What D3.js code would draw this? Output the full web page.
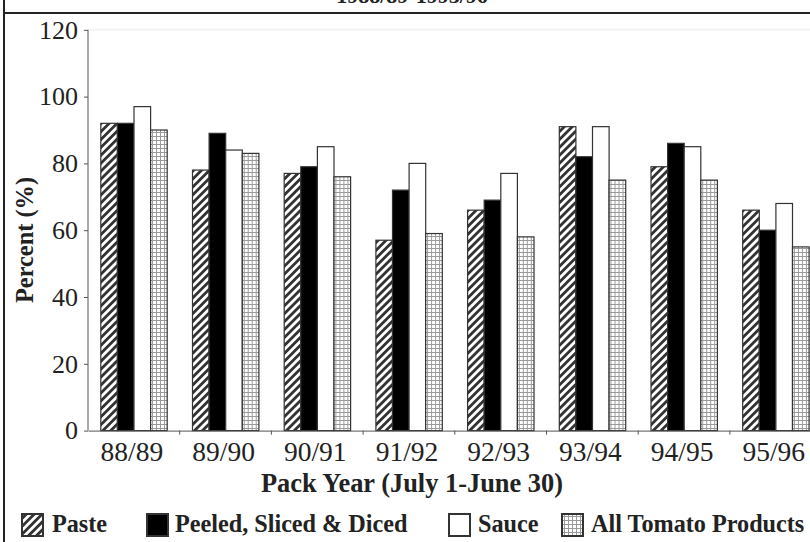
<!DOCTYPE html>
<html><head><meta charset="utf-8">
<script src="https://cdn.jsdelivr.net/npm/d3@7"></script>
<style>
html,body{margin:0;padding:0;background:#fff;}
svg{display:block;font-family:"Liberation Serif","DejaVu Serif",serif;}
</style></head>
<body>
<svg id="chart" width="810" height="542"></svg>
<script>
const title = "1988/89-1995/96";
const categories = ["88/89","89/90","90/91","91/92","92/93","93/94","94/95","95/96"];
const seriesNames = ["Paste","Peeled, Sliced & Diced","Sauce","All Tomato Products"];
const paste  = [92, 78, 77, 57, 66, 91, 79, 66];
const peeled = [92, 89, 79, 72, 69, 82, 86, 60];
const sauce  = [97, 84, 85, 80, 77, 91, 85, 68];
const allTom = [90, 83, 76, 59, 58, 75, 75, 55];
const yTicks = [0, 20, 40, 60, 80, 100, 120];
const yLabel = "Percent (%)";
const xLabel = "Pack Year (July 1-June 30)";

const seriesValues = [paste, peeled, sauce, allTom];
const fills = ["url(#hatch)", "#000", "#fff", "url(#grid)"];

const svg = d3.select("#chart");
const defs = svg.append("defs");
const hatch = defs.append("pattern").attr("id","hatch").attr("patternUnits","userSpaceOnUse")
  .attr("width",5.6).attr("height",5.6).attr("patternTransform","rotate(45)");
hatch.append("rect").attr("width",5.6).attr("height",5.6).attr("fill","#fff");
hatch.append("rect").attr("x",0).attr("width",2.8).attr("height",5.6).attr("fill","#333");
const grid = defs.append("pattern").attr("id","grid").attr("patternUnits","userSpaceOnUse")
  .attr("width",4).attr("height",4);
grid.append("rect").attr("width",4).attr("height",4).attr("fill","#fff");
grid.append("path").attr("d","M0,0.5H4M0.5,0V4").attr("stroke","#9a9a9a").attr("stroke-width",1);

// frame
svg.append("line").attr("x1",4).attr("x2",4).attr("y1",0).attr("y2",542).attr("stroke","#222").attr("stroke-width",2);
svg.append("line").attr("x1",4).attr("x2",810).attr("y1",13).attr("y2",13).attr("stroke","#222").attr("stroke-width",2.2);
svg.append("text").attr("x",412).attr("y",3).attr("text-anchor","middle")
  .attr("font-size",22).attr("font-weight","bold").attr("fill","#222").text(title);

const x0 = d3.scaleBand().domain(categories).range([88, 821.6]).padding(0);
const x1 = d3.scaleBand().domain(seriesNames).range([12.3, 78.7]).padding(0);
const y = d3.scaleLinear().domain([0,120]).range([430.6, 29.8]);

// top faint plot border
svg.append("line").attr("x1",88).attr("x2",810).attr("y1",y(120)).attr("y2",y(120))
  .attr("stroke","#ececec").attr("stroke-width",1);

const groups = svg.append("g").selectAll("g").data(categories).join("g")
  .attr("transform", c => `translate(${x0(c)},0)`);
groups.selectAll("rect").data((c,i) => seriesNames.map((s,j) => ({s, v: seriesValues[j][i], j})))
  .join("rect")
  .attr("x", d => x1(d.s)+0.5)
  .attr("y", d => y(d.v))
  .attr("width", x1.bandwidth())
  .attr("height", d => y(0) - y(d.v))
  .attr("fill", d => fills[d.j])
  .attr("stroke", "#333").attr("stroke-width", 1.2);

// y axis
const yAxis = svg.append("g").attr("transform","translate(88,0)")
  .call(d3.axisLeft(y).tickValues(yTicks).tickSize(4).tickPadding(6));
yAxis.attr("font-size",null).attr("font-family",null);
yAxis.select(".domain").attr("stroke","#555").attr("d",`M0,${y(120)}V${y(0)}`);
yAxis.selectAll(".tick line").attr("stroke","#555");
yAxis.selectAll("text").style("font-family","Liberation Serif").style("font-size","26px").attr("fill","#222");

// x axis
const xAxis = svg.append("g").attr("transform",`translate(0,${y(0)})`)
  .call(d3.axisBottom(x0).tickSize(0).tickPadding(11));
xAxis.attr("font-size",null).attr("font-family",null);
xAxis.select(".domain").attr("stroke","#555");
xAxis.selectAll("text").style("font-family","Liberation Serif").style("font-size","27.5px").attr("fill","#222").attr("dx",-2);
// boundary ticks
svg.append("g").selectAll("line").data(categories.slice(1)).join("line")
  .attr("x1", c => x0(c)).attr("x2", c => x0(c))
  .attr("y1", y(0)).attr("y2", y(0)+4).attr("stroke","#555");

svg.append("text").attr("x",412).attr("y",492).attr("text-anchor","middle")
  .attr("font-size",26.4).attr("font-weight","bold").attr("fill","#222").text(xLabel);
svg.append("text").attr("transform","translate(33,240) rotate(-90)").attr("text-anchor","middle")
  .attr("font-size",24.4).attr("font-weight","bold").attr("fill","#222").text(yLabel);

// legend
const legX = [22, 147, 449, 562];
const legTX = [52, 175, 478, 591];
const leg = svg.append("g").selectAll("g").data(seriesNames).join("g");
leg.append("rect").attr("x",(d,i)=>legX[i]).attr("y",514).attr("width",21).attr("height",22)
  .attr("fill",(d,i)=>fills[i]).attr("stroke","#333").attr("stroke-width",2);
leg.append("text").attr("x",(d,i)=>legTX[i]).attr("y",532).attr("font-size",24.2)
  .attr("font-weight","bold").attr("fill","#222").text(d=>d);
</script>
</body></html>
